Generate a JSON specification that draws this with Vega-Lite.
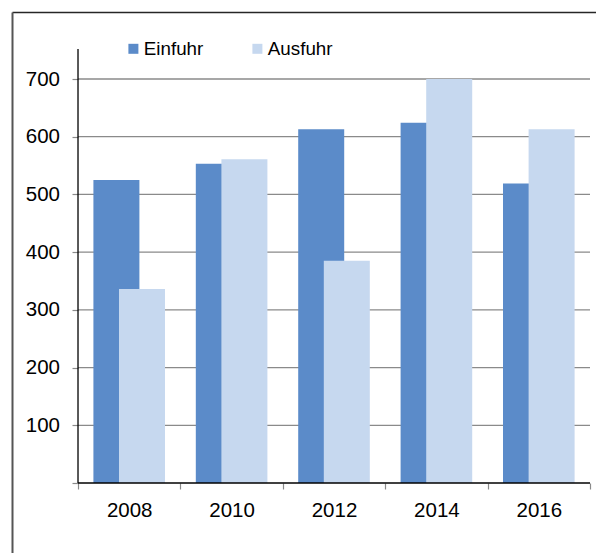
{
  "$schema": "https://vega.github.io/schema/vega-lite/v6.json",
  "width": 584,
  "height": 541,
  "autosize": {"type": "none"},
  "padding": {"left": 12, "top": 12, "right": 0, "bottom": 0},
  "background": "white",
  "config": {
    "view": {"stroke": null},
    "font": "Liberation Sans",
    "axis": {"labelFont": "Liberation Sans", "labelColor": "#000000", "labelFontSize": 20.5}
  },
  "resolve": {"axis": {"x": "independent", "y": "independent"}},
  "layer": [
    {
      "data": {"values": [{"Wert": 100}, {"Wert": 200}, {"Wert": 300}, {"Wert": 400}, {"Wert": 500}, {"Wert": 600}, {"Wert": 700}]},
      "mark": {"type": "rule", "color": "#8a8a8a", "strokeWidth": 1.3},
      "encoding": {
        "y": {"field": "Wert", "type": "quantitative",
          "scale": {"domain": [-121.3, 816.1], "nice": false, "zero": false},
          "axis": {"orient": "left", "offset": 0, "domain": true, "domainColor": "#555555", "domainWidth": 2, "labels": false, "ticks": false, "grid": false, "title": null}},
        "x": {"datum": "2008", "type": "ordinal", "bandPosition": 0,
          "scale": {"domain": ["2008", "2010", "2012", "2014", "2016"], "paddingInner": 0, "paddingOuter": 0.3516, "align": 0.9167},
          "axis": {"orient": "top", "domain": true, "domainColor": "#262626", "domainWidth": 1.5, "labels": false, "ticks": false, "grid": false, "title": null}},
        "x2": {"datum": "2016", "bandPosition": 1}
      }
    },
    {
      "data": {"values": [
        {"Jahr": "2008", "Art": "Einfuhr", "Wert": 525},
        {"Jahr": "2010", "Art": "Einfuhr", "Wert": 553},
        {"Jahr": "2012", "Art": "Einfuhr", "Wert": 613},
        {"Jahr": "2014", "Art": "Einfuhr", "Wert": 624},
        {"Jahr": "2016", "Art": "Einfuhr", "Wert": 519},
        {"Jahr": "2008", "Art": "Ausfuhr", "Wert": 336},
        {"Jahr": "2010", "Art": "Ausfuhr", "Wert": 561},
        {"Jahr": "2012", "Art": "Ausfuhr", "Wert": 385},
        {"Jahr": "2014", "Art": "Ausfuhr", "Wert": 700},
        {"Jahr": "2016", "Art": "Ausfuhr", "Wert": 613}
      ]},
      "mark": {"type": "bar", "width": 46},
      "encoding": {
        "x": {"field": "Jahr", "type": "ordinal",
          "scale": {"domain": ["2008", "2010", "2012", "2014", "2016"], "paddingInner": 0, "paddingOuter": 0.3516, "align": 0.9167},
          "axis": {"orient": "bottom", "offset": -70, "tickBand": "extent", "domain": false, "grid": false, "ticks": true, "tickSize": 6, "tickColor": "#8a8a8a", "tickWidth": 1.2, "labelPadding": 11, "labelAngle": 0, "labelFontSize": 20.5, "labelFont": "Liberation Sans", "labelColor": "#000000", "title": null}},
        "xOffset": {"field": "Art", "type": "nominal", "sort": ["Einfuhr", "Ausfuhr"],
          "scale": {"paddingInner": 0, "paddingOuter": 1.226}},
        "y": {"field": "Wert", "type": "quantitative",
          "scale": {"domain": [-121.3, 816.1], "nice": false, "zero": false},
          "axis": {"orient": "left", "offset": -66, "values": [0, 100, 200, 300, 400, 500, 600, 700], "domain": false, "grid": false, "ticks": true, "tickSize": 6, "tickColor": "#8a8a8a", "tickWidth": 1.2, "labelPadding": 12.5, "labelFontSize": 20.5, "labelFont": "Liberation Sans", "labelColor": "#000000", "labelExpr": "datum.value == 0 ? '' : datum.label", "title": null}},
        "color": {"field": "Art", "type": "nominal", "sort": ["Einfuhr", "Ausfuhr"],
          "scale": {"domain": ["Einfuhr", "Ausfuhr"], "range": ["#5b8bc9", "#c6d8ef"]},
          "legend": {"orient": "none", "legendX": 112, "legendY": 27, "direction": "horizontal", "title": null, "padding": 0,
            "symbolType": "square", "symbolSize": 100, "symbolStrokeWidth": 0, "symbolOpacity": 1,
            "labelFont": "Liberation Sans", "labelFontSize": 18.8, "labelColor": "#000000", "labelOffset": 1, "columnPadding": 44}},
        "order": {"field": "Art", "sort": "descending"}
      }
    },
    {
      "data": {"values": [{"Linie": "y-Achse"}]},
      "mark": {"type": "rule", "color": "#000000", "strokeWidth": 1.3},
      "encoding": {
        "x": {"datum": "2008", "type": "ordinal", "bandPosition": 0, "axis": null},
        "y": {"datum": 0, "type": "quantitative", "axis": null},
        "y2": {"datum": 752}
      }
    },
    {
      "data": {"values": [{"Linie": "x-Achse"}]},
      "mark": {"type": "rule", "color": "#000000", "strokeWidth": 1.3},
      "encoding": {
        "x": {"datum": "2008", "type": "ordinal", "bandPosition": 0, "axis": null},
        "x2": {"datum": "2016", "bandPosition": 1},
        "y": {"datum": 0, "type": "quantitative", "axis": null}
      }
    }
  ]
}
